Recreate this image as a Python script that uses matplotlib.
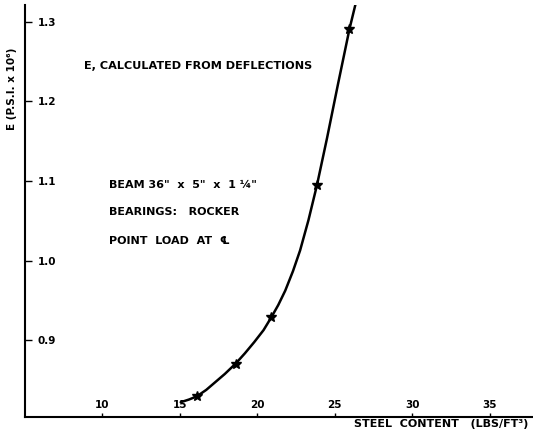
import matplotlib
matplotlib.use("Agg")
import matplotlib.pyplot as plt

# measured points (steel content lbs/ft^3, E in 10^6 psi)
steel = [16.1, 18.6, 20.9, 23.85, 25.95]
e_mod = [0.830, 0.871, 0.929, 1.095, 1.291]

# hand-drawn smooth curve
curve_x = [15.05, 15.6, 16.1, 16.7, 17.3, 17.9, 18.6, 19.2, 19.8, 20.4,
           20.9, 21.35, 21.8, 22.3, 22.76, 23.3, 23.85, 24.5, 25.2,
           25.95, 26.35]
curve_y = [0.8225, 0.826, 0.830, 0.838, 0.848, 0.858, 0.871, 0.884, 0.898,
           0.913, 0.929, 0.9445, 0.9625, 0.987, 1.013, 1.051, 1.095, 1.154,
           1.221, 1.291, 1.323]

xticks = [10, 15, 20, 25, 30, 35]
yticks = [0.9, 1.0, 1.1, 1.2, 1.3]
ylabels = ["0.9", "1.0", "1.1", "1.2", "1.3"]

plt.rcParams["font.family"] = "DejaVu Sans"
plt.rcParams["font.weight"] = "bold"

fig = plt.figure(figsize=(5.33, 4.42), dpi=100)
ax = fig.add_axes([0.047, 0.0566, 0.953, 0.932])

ax.plot(curve_x, curve_y, "k-", lw=1.8, solid_capstyle="round",
        solid_joinstyle="round")
ax.plot(steel, e_mod, "k*", ms=7)

ax.set_xlim(5.0, 37.8)
ax.set_ylim(0.804, 1.321)
for s in ("top", "right"):
    ax.spines[s].set_visible(False)
for s in ("left", "bottom"):
    ax.spines[s].set_linewidth(1.5)

ax.set_xticks(xticks)
ax.set_xticklabels([str(t) for t in xticks], fontsize=7.5, va="bottom")
ax.tick_params(axis="x", direction="in", length=3, width=1, pad=-5)
ax.set_yticks(yticks)
ax.set_yticklabels(ylabels, fontsize=7.5, ha="left")
ax.tick_params(axis="y", direction="in", length=5, width=1, pad=-9)

ax.text(8.78, 1.244, "E, CALCULATED FROM DEFLECTIONS", fontsize=8.1,
        va="center", ha="left")
ax.text(10.45, 1.095, "BEAM 36\"  x  5\"  x  1 \u00bc\"", fontsize=8,
        va="center")
ax.text(10.45, 1.061, "BEARINGS:   ROCKER", fontsize=8, va="center")
ax.text(10.45, 1.025, "POINT  LOAD  AT  \u2104", fontsize=8, va="center")

fig.text(0.022, 0.80, "E (P.S.I. x 10\u2076)", rotation=90, fontsize=7.5,
         ha="center", va="center")
fig.text(0.992, 0.041, "STEEL  CONTENT   (LBS/FT\u00b3)", fontsize=8,
         ha="right", va="center")

fig.savefig("out.png", dpi=100)
